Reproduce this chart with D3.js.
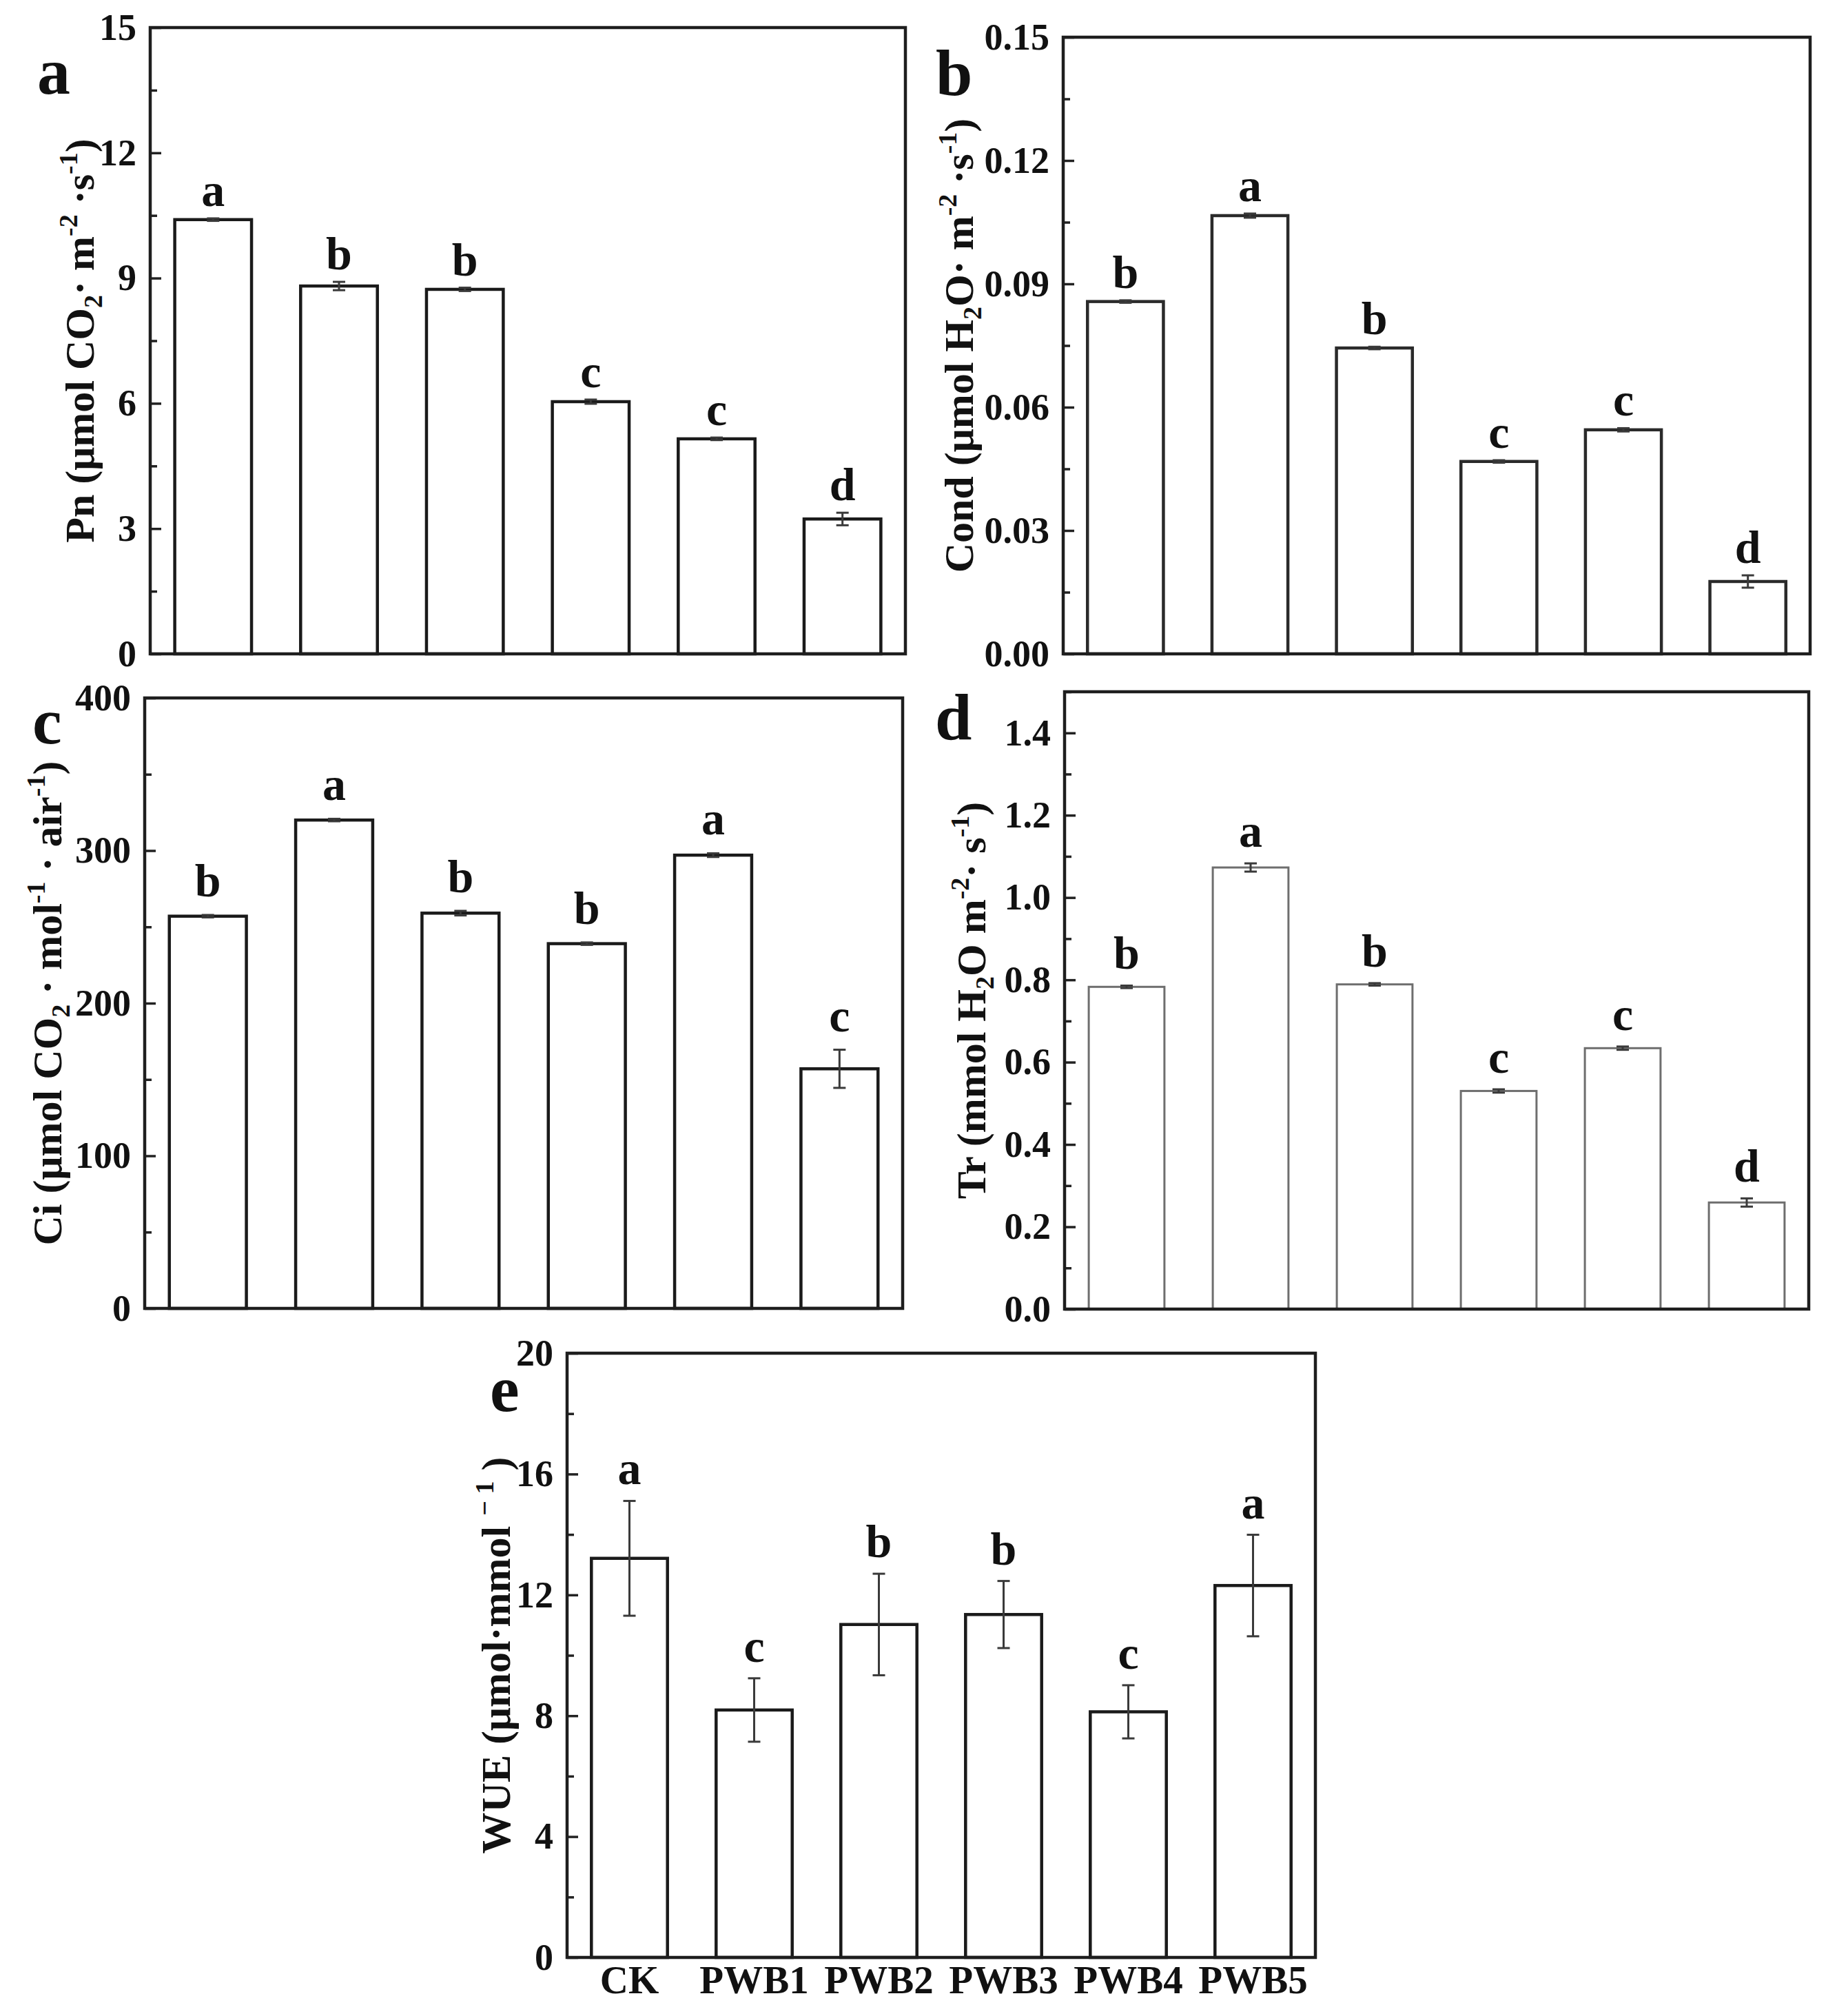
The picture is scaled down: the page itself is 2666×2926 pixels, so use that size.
<!DOCTYPE html>
<html>
<head>
<meta charset="utf-8">
<script src="https://cdn.jsdelivr.net/npm/d3@7"></script>
<style>
  body { margin: 0; background: #fff; }
  text { font-family: "Liberation Serif", "Times New Roman", serif; font-weight: bold; fill: #111; }
</style>
</head>
<body>
<svg id="chart"></svg>
<script>
// treatments
const categories = ["CK", "PWB1", "PWB2", "PWB3", "PWB4", "PWB5"];

// a: net photosynthetic rate
const pnValues = [10.4, 8.81, 8.73, 6.04, 5.15, 3.23];
const pnErrors = [0.03, 0.1, 0.04, 0.05, 0.03, 0.15];
const pnLetters = ["a", "b", "b", "c", "c", "d"];
const pnTicks = [0, 3, 6, 9, 12, 15];

// b: stomatal conductance
const condValues = [0.0857, 0.1066, 0.0744, 0.0468, 0.0545, 0.0176];
const condErrors = [0.0003, 0.0005, 0.0003, 0.0003, 0.0004, 0.0015];
const condLetters = ["b", "a", "b", "c", "c", "d"];
const condTicks = [0, 0.03, 0.06, 0.09, 0.12, 0.15];

// c: intercellular CO2
const ciValues = [257, 320, 259, 239, 297, 157];
const ciErrors = [0.8, 0.8, 1.5, 0.8, 1.2, 12.5];
const ciLetters = ["b", "a", "b", "b", "a", "c"];
const ciTicks = [0, 100, 200, 300, 400];

// d: transpiration rate
const trValues = [0.783, 1.073, 0.789, 0.530, 0.634, 0.259];
const trErrors = [0.003, 0.01, 0.003, 0.004, 0.004, 0.01];
const trLetters = ["b", "a", "b", "c", "c", "d"];
const trTicks = [0, 0.2, 0.4, 0.6, 0.8, 1.0, 1.2, 1.4];

// e: water use efficiency
const wueValues = [13.21, 8.19, 11.02, 11.35, 8.13, 12.31];
const wueErrors = [1.9, 1.05, 1.68, 1.11, 0.88, 1.68];
const wueLetters = ["a", "c", "b", "b", "c", "a"];
const wueTicks = [0, 4, 8, 12, 16, 20];

// axis titles: [text, "sub" | "sup" | null]
const pnTitle = [["Pn (μmol CO", null], ["2", "sub"], ["· m", null], ["-2", "sup"], [" ·s", null], ["-1", "sup"], [")", null]];
const condTitle = [["Cond (μmol H", null], ["2", "sub"], ["O· m", null], ["-2", "sup"], [" ·s", null], ["-1", "sup"], [")", null]];
const ciTitle = [["Ci (μmol CO", null], ["2", "sub"], [" · mol", null], ["-1", "sup"], [" · air", null], ["-1", "sup"], [")", null]];
const trTitle = [["Tr (mmol H", null], ["2", "sub"], ["O m", null], ["-2", "sup"], ["· s", null], ["-1", "sup"], [")", null]];
const wueTitle = [["WUE (μmol·mmol ", null], ["− 1", "sup"], ["  )", null]];

const panels = [
  { tag: "a", values: pnValues, errors: pnErrors, letters: pnLetters, ticks: pnTicks, max: 15, fmt: d3.format("d"), title: pnTitle,
    left: 218, top: 40, right: 1314, bottom: 949, titleX: 136, tagX: 54, tagY: 136, gap: 18, barColor: "#1a1a1a", barWidth: 4.5 },
  { tag: "b", values: condValues, errors: condErrors, letters: condLetters, ticks: condTicks, max: 0.15, fmt: d3.format(".2f"), title: condTitle,
    left: 1543, top: 54, right: 2627, bottom: 949, titleX: 1412, tagX: 1358, tagY: 138, gap: 18, barColor: "#2a2a2a", barWidth: 4.5 },
  { tag: "c", values: ciValues, errors: ciErrors, letters: ciLetters, ticks: ciTicks, max: 400, fmt: d3.format("d"), title: ciTitle,
    left: 210, top: 1013, right: 1310, bottom: 1899, titleX: 89, tagX: 47, tagY: 1079, gap: 27, barColor: "#1a1a1a", barWidth: 4.5 },
  { tag: "d", values: trValues, errors: trErrors, letters: trLetters, ticks: trTicks, max: 1.5, fmt: d3.format(".1f"), title: trTitle,
    left: 1545, top: 1004, right: 2625, bottom: 1900, titleX: 1430, tagX: 1357, tagY: 1073, gap: 24, barColor: "#6e6e6e", barWidth: 3 },
  { tag: "e", values: wueValues, errors: wueErrors, letters: wueLetters, ticks: wueTicks, max: 20, fmt: d3.format("d"), title: wueTitle,
    left: 823, top: 1964, right: 1909, bottom: 2841, titleX: 740, tagX: 711, tagY: 2048, gap: 24, barColor: "#1a1a1a", barWidth: 4.5, xLabels: true },
];

const svg = d3.select("#chart").attr("width", 2666).attr("height", 2926);

const drawTitle = (g, segments, x, y) => {
  const text = g.append("text")
    .attr("transform", `translate(${x},${y}) rotate(-90)`)
    .attr("text-anchor", "middle")
    .style("font-size", "60px");
  let shift = 0;
  segments.forEach(([str, kind]) => {
    const target = kind === "sup" ? -24 : kind === "sub" ? 12 : 0;
    text.append("tspan")
      .attr("dy", target - shift)
      .style("font-size", kind ? "38px" : null)
      .text(str);
    shift = target;
  });
};

panels.forEach((p) => {
  const g = svg.append("g");

  const x = d3.scaleBand()
    .domain(categories)
    .range([p.left, p.right])
    .paddingInner(0.39)
    .paddingOuter(0.195);
  const y = d3.scaleLinear().domain([0, p.max]).range([p.bottom, p.top]);

  // minor ticks halfway between the major ones
  const minors = d3.pairs(p.ticks).map(([a, b]) => (a + b) / 2);
  if (p.tag === "d") minors.push(1.5);

  g.append("g")
    .attr("transform", `translate(${p.left},0)`)
    .call(d3.axisLeft(y).tickValues(minors).tickSize(-10).tickFormat(""))
    .call((s) => s.select(".domain").remove())
    .call((s) => s.selectAll("line").attr("stroke", "#222").attr("stroke-width", 3.5));

  g.append("g")
    .attr("transform", `translate(${p.left},0)`)
    .call(d3.axisLeft(y).tickValues(p.ticks).tickSize(-16).tickPadding(20).tickFormat(p.fmt))
    .call((s) => s.select(".domain").remove())
    .call((s) => s.selectAll("line").attr("stroke", "#222").attr("stroke-width", 3.5))
    .call((s) => s.selectAll("text").attr("fill", "#111").style("font-size", "54px")
      .style("font-family", "'Liberation Serif', serif").style("font-weight", "bold"));

  if (p.xLabels) {
    g.append("g")
      .attr("transform", `translate(0,${p.bottom})`)
      .call(d3.axisBottom(x).tickSize(0).tickPadding(12))
      .call((s) => s.select(".domain").remove())
      .call((s) => s.selectAll("text").attr("fill", "#111").style("font-size", "57px")
        .style("font-family", "'Liberation Serif', serif").style("font-weight", "bold"));
  }

  const rows = categories.map((c, i) => ({ c, v: p.values[i], e: p.errors[i], l: p.letters[i] }));

  g.append("g")
    .selectAll("rect")
    .data(rows)
    .join("rect")
    .attr("x", (d) => x(d.c))
    .attr("y", (d) => y(d.v))
    .attr("width", x.bandwidth())
    .attr("height", (d) => y(0) - y(d.v))
    .attr("fill", "#fff")
    .attr("stroke", p.barColor)
    .attr("stroke-width", p.barWidth);

  const err = g.append("g").attr("stroke", "#3a3a3a").attr("stroke-width", 3);
  const cx = (d) => x(d.c) + x.bandwidth() / 2;
  err.selectAll("line.v")
    .data(rows)
    .join("line")
    .attr("class", "v")
    .attr("x1", cx).attr("x2", cx)
    .attr("y1", (d) => y(d.v - d.e)).attr("y2", (d) => y(d.v + d.e));
  err.selectAll("line.hi")
    .data(rows)
    .join("line")
    .attr("class", "hi")
    .attr("x1", (d) => cx(d) - 9).attr("x2", (d) => cx(d) + 9)
    .attr("y1", (d) => y(d.v + d.e)).attr("y2", (d) => y(d.v + d.e));
  err.selectAll("line.lo")
    .data(rows)
    .join("line")
    .attr("class", "lo")
    .attr("x1", (d) => cx(d) - 9).attr("x2", (d) => cx(d) + 9)
    .attr("y1", (d) => y(d.v - d.e)).attr("y2", (d) => y(d.v - d.e));

  g.append("g")
    .selectAll("text")
    .data(rows)
    .join("text")
    .attr("x", cx)
    .attr("y", (d) => y(d.v + d.e) - p.gap)
    .attr("text-anchor", "middle")
    .style("font-size", "68px")
    .text((d) => d.l);

  // frame
  g.append("rect")
    .attr("x", p.left).attr("y", p.top)
    .attr("width", p.right - p.left).attr("height", p.bottom - p.top)
    .attr("fill", "none").attr("stroke", "#1e1e1e").attr("stroke-width", 4.5);

  drawTitle(g, p.title, p.titleX, (p.top + p.bottom) / 2);

  g.append("text")
    .attr("x", p.tagX).attr("y", p.tagY)
    .style("font-size", "96px")
    .text(p.tag);
});
</script>
</body>
</html>
